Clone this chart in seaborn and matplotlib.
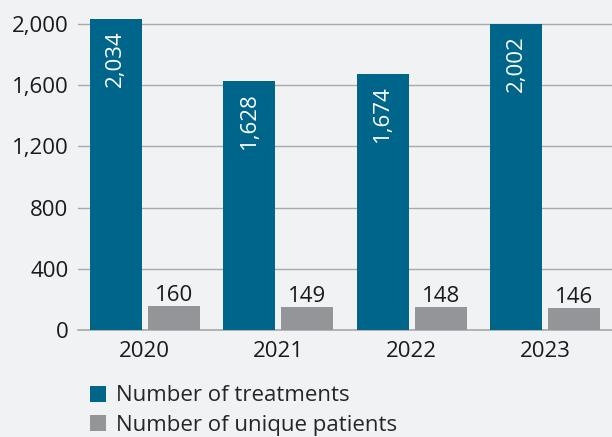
import pandas as pd
import seaborn as sns
import matplotlib.pyplot as plt

# data
years = ["2020", "2021", "2022", "2023"]
treatments = [2034, 1628, 1674, 2002]
patients = [160, 149, 148, 146]
series_names = ["Number of treatments", "Number of unique patients"]

bg = "#f1f2f4"
blue = "#00658a"
grey = "#939598"

df = pd.DataFrame({
    "year": years * 2,
    "value": treatments + patients,
    "series": [series_names[0]] * 4 + [series_names[1]] * 4,
})

sns.set_style("white")
plt.rcParams["font.family"] = ["Open Sans", "DejaVu Sans"]

fig = plt.figure(figsize=(6.12, 4.37), dpi=100, facecolor=bg)
ax = fig.add_axes([0.1275, 0.2449, 0.8725, 0.735])
ax.set_facecolor(bg)

sns.barplot(data=df, x="year", y="value", hue="series",
            palette=[blue, grey], width=0.87, gap=0.1,
            saturation=1, linewidth=0, ax=ax, zorder=3)

ax.set_ylim(0, 2100)
ax.set_xlim(-0.5, 3.5)
ax.set_yticks(range(0, 2001, 400))
ax.set_yticklabels([f"{v:,}" for v in range(0, 2001, 400)])
ax.grid(axis="y", color="#a7a9ac", linewidth=1, zorder=0)
ax.tick_params(axis="y", length=0, labelsize=16, pad=7, labelcolor="#1a1a1a")
ax.tick_params(axis="x", length=0, labelsize=16, pad=8, labelcolor="#1a1a1a")
for s in ["top", "right", "left"]:
    ax.spines[s].set_visible(False)
ax.spines["bottom"].set_color("#a7a9ac")
ax.spines["bottom"].set_linewidth(1.2)
ax.set_xlabel("")
ax.set_ylabel("")

# labels
blue_bars = ax.containers[0]
grey_bars = ax.containers[1]
for p, v in zip(blue_bars, treatments):
    ax.annotate(f"{v:,}", (p.get_x() + p.get_width() / 2, p.get_height()),
                xytext=(0, -11), textcoords="offset pixels",
                ha="center", va="top", rotation=90, color="white", fontsize=16)
ax.bar_label(grey_bars, labels=[str(v) for v in patients], padding=0,
             fontsize=16, color="#1a1a1a")

h, l = ax.get_legend_handles_labels()
ax.legend(h, l, loc="upper left", bbox_to_anchor=(0.005, -0.145),
          frameon=False, fontsize=16, handlelength=0.75, handleheight=0.75,
          handletextpad=0.45, labelspacing=0.37, borderaxespad=0)

fig.savefig("out.png", dpi=100, facecolor=bg)
